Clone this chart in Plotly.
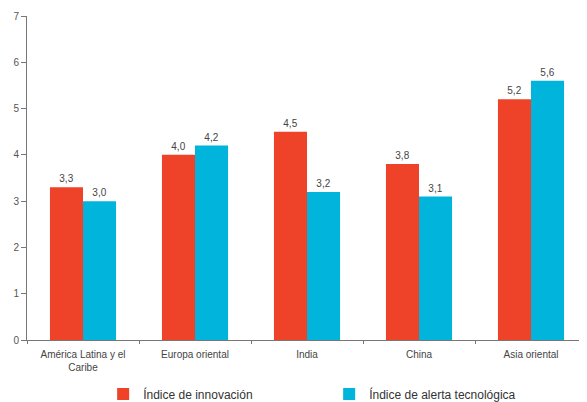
import plotly.graph_objects as go

categories = ["América Latina y el<br>Caribe", "Europa oriental", "India", "China", "Asia oriental"]
innovacion = [3.3, 4.0, 4.5, 3.8, 5.2]
alerta = [3.0, 4.2, 3.2, 3.1, 5.6]
series_names = ["Índice de innovación", "Índice de alerta tecnológica"]
y_ticks = [0, 1, 2, 3, 4, 5, 6, 7]

def fmt(v):
    return f"{v:.1f}".replace(".", ",")

fig = go.Figure()
fig.add_trace(go.Bar(
    x=categories, y=innovacion, name=series_names[0],
    marker=dict(color="#EE4328", line=dict(width=0)),
    text=[fmt(v) for v in innovacion], textposition="outside",
    textfont=dict(size=10, color="#444444"), cliponaxis=False,
))
fig.add_trace(go.Bar(
    x=categories, y=alerta, name=series_names[1],
    marker=dict(color="#00B4DC", line=dict(width=0)),
    text=[fmt(v) for v in alerta], textposition="outside",
    textfont=dict(size=10, color="#444444"), cliponaxis=False,
))

fig.update_layout(
    width=579, height=394,
    margin=dict(l=19, r=0, t=8, b=62, autoexpand=False),
    paper_bgcolor="white", plot_bgcolor="white",
    font=dict(family="Liberation Sans, Arial, sans-serif", size=10, color="#444444"),
    barmode="group", bargap=0.41, bargroupgap=0,
    showlegend=True,
    legend=dict(orientation="h", x=0.136, y=-0.122, xanchor="left", yanchor="top",
                entrywidth=181, entrywidthmode="pixels", tracegroupgap=0,
                font=dict(size=12, color="#333333")),
)
fig.update_yaxes(
    range=[0, 7], tickvals=y_ticks, ticktext=[str(t) for t in y_ticks],
    showgrid=False, zeroline=False, showline=True, linecolor="#777777", linewidth=1,
    ticks="outside", ticklen=5, tickcolor="#777777", automargin=False,
    tickfont=dict(size=10, color="#555555"),
)
fig.update_xaxes(
    showgrid=False, showline=True, linecolor="#777777", linewidth=1,
    ticks="outside", tickson="boundaries", ticklen=3, tickcolor="#777777",
    ticklabelstandoff=5,
    automargin=False, tickfont=dict(size=10, color="#444444"),
)

fig.write_html("out.html")
